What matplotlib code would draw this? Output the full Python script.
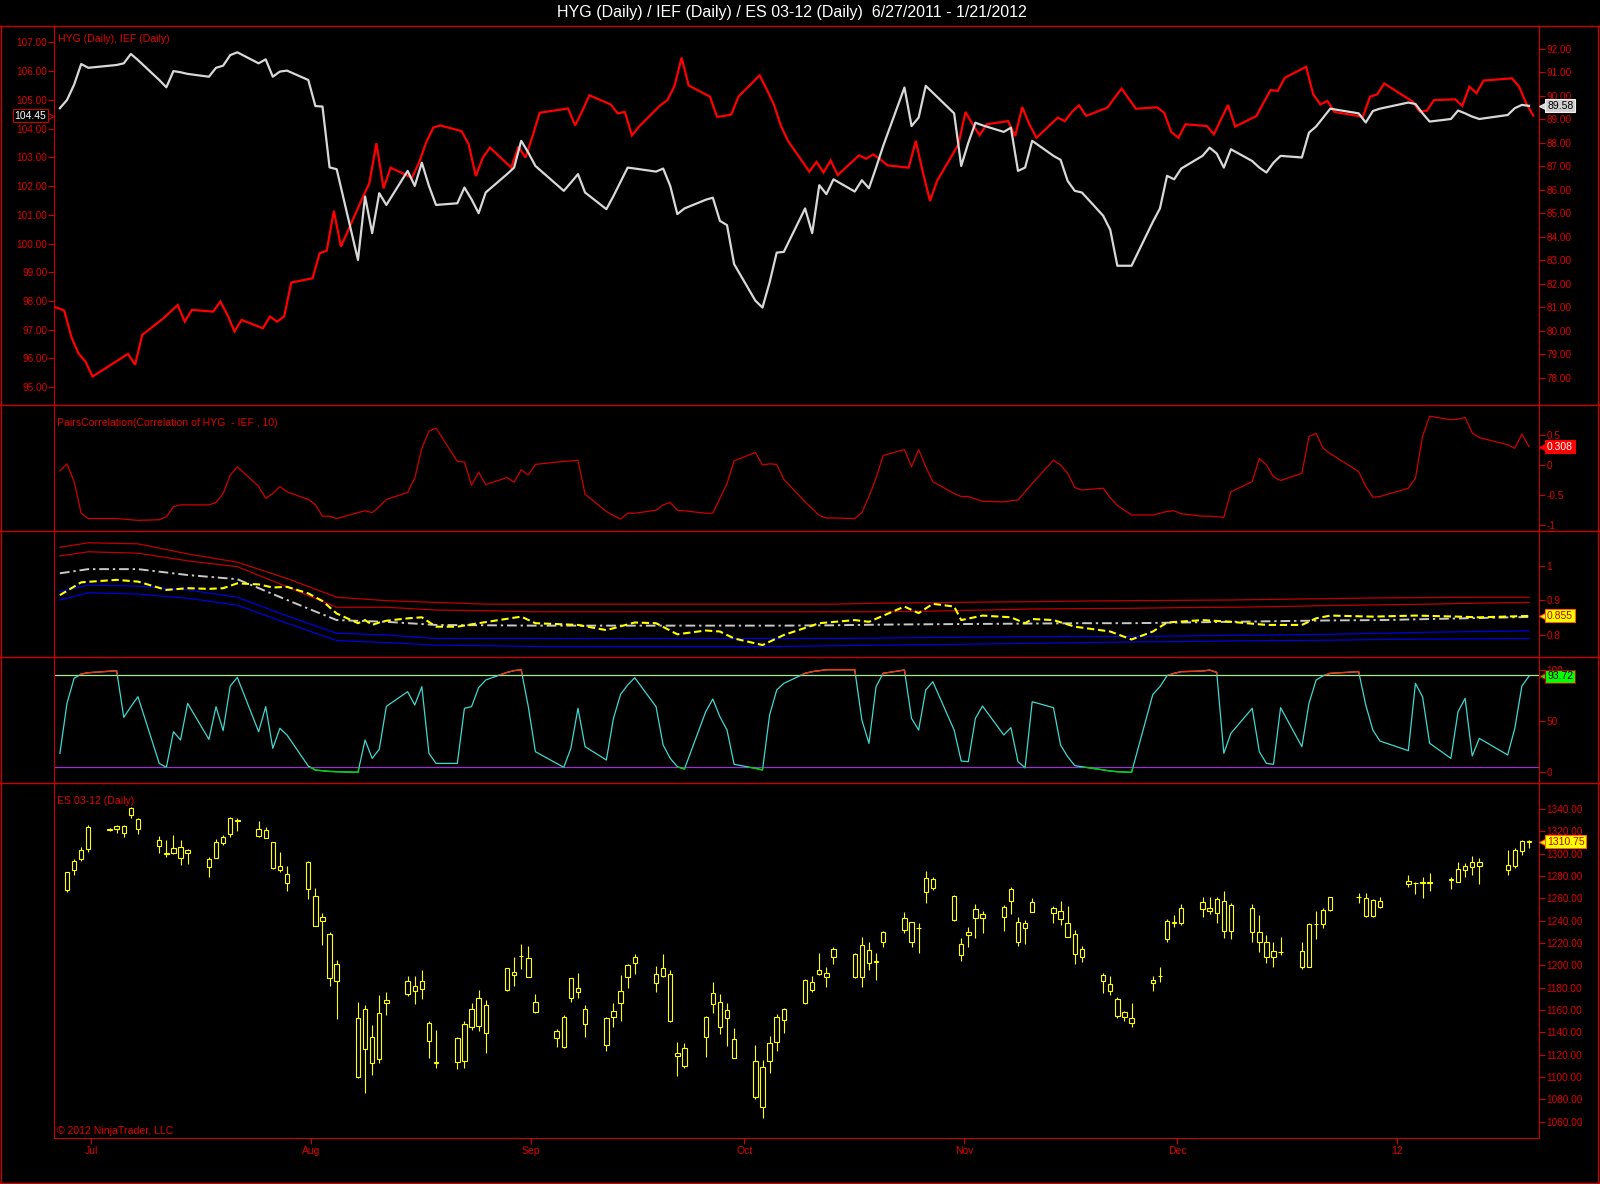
import numpy as np
import pandas as pd
import matplotlib
matplotlib.use("Agg")
import matplotlib.pyplot as plt
import matplotlib.dates as mdates
import matplotlib.transforms as mtransforms
from matplotlib.patches import Rectangle
from matplotlib.lines import Line2D

plt.rcParams['font.family'] = ['Liberation Sans', 'DejaVu Sans']

# ---------------- dates ----------------
etf_holidays = ['2011-07-04', '2011-09-05', '2011-11-24', '2011-12-26', '2012-01-02', '2012-01-16']
es_closed = ['2011-12-26', '2012-01-02', '2012-01-16']
etf_days = pd.bdate_range('2011-06-27', '2012-01-20').drop(pd.to_datetime(etf_holidays))
es_days = pd.bdate_range('2011-06-28', '2012-01-20').drop(pd.to_datetime(es_closed))
ief_days = pd.DatetimeIndex(['2011-06-24']).append(etf_days)

# ---------------- panel 1: IEF (left axis, red) / HYG (right axis, white) ----------------
ief = [97.95,
       97.67, 96.76, 96.18, 95.89, 95.37,
       96.00, 96.16, 95.78, 96.82,
       97.40, 97.63, 97.86, 97.28, 97.69,
       97.63, 97.98, 97.52, 96.94, 97.34,
       97.05, 97.46, 97.28, 97.46, 98.64,
       98.79, 99.66, 99.75, 101.14, 99.89,
       101.57, 102.10, 103.49, 101.92, 102.64,
       102.29, 102.81, 103.51, 104.03, 104.11,
       103.91, 103.45, 102.35, 102.99, 103.34,
       102.64, 103.37, 102.99, 103.74, 104.55,
       104.70, 104.11, 104.61, 105.16,
       104.84, 104.53, 104.58, 103.76, 104.07,
       104.81, 104.99, 105.48, 106.47, 105.50,
       105.11, 104.41, 104.44, 104.49, 105.11,
       105.85, 105.36, 104.84, 104.09, 103.57,
       102.50, 102.84, 102.47, 102.89, 102.38,
       103.07, 102.95, 103.10, 102.93, 102.72,
       102.64, 103.57, 102.47, 101.48, 102.18,
       103.45, 104.58, 104.15, 103.77, 104.15,
       104.26, 103.74, 104.75, 104.15, 103.68,
       104.38, 104.26, 104.58, 104.81, 104.44,
       104.73, 105.07, 105.39, 104.69,
       104.74, 104.55, 103.88, 103.68, 104.15,
       104.09, 103.80, 104.32, 104.82, 104.07,
       104.44, 104.90, 105.34, 105.31, 105.77,
       106.15, 105.19, 104.84, 104.96, 104.58,
       104.41, 105.11, 105.19, 105.57,
       104.94, 104.59, 104.62, 104.99,
       105.02, 104.79, 105.46, 105.23, 105.67,
       105.75, 105.46, 104.88, 104.45]

hyg = [89.48, 89.83, 90.48, 91.36, 91.20,
       91.32, 91.39, 91.79, 91.53,
       90.68, 90.37, 91.06, 91.01, 90.94,
       90.82, 91.20, 91.29, 91.74, 91.86,
       91.39, 91.56, 90.82, 91.04, 91.08,
       90.68, 89.57, 89.55, 86.96, 86.88,
       83.02, 85.72, 84.16, 85.86, 85.36,
       86.81, 86.17, 87.16, 86.17, 85.36,
       85.43, 86.10, 85.60, 85.01, 85.89,
       86.67, 86.95, 88.09, 87.59, 87.02,
       85.96, 86.31, 86.67, 85.89,
       85.18, 85.74, 86.34, 86.95, 86.91,
       86.78, 86.91, 86.17, 84.97, 85.21,
       85.58, 85.67, 84.68, 84.50, 82.84,
       81.28, 80.99, 82.06, 83.33, 83.36,
       85.21, 84.16, 86.20, 85.82, 86.45,
       85.93, 86.41, 86.07, 86.95, 87.87,
       90.36, 88.72, 89.08, 90.43, 90.14,
       89.26, 87.02, 88.01, 88.86, 88.75,
       88.47, 88.65, 86.81, 86.95, 88.09,
       87.45, 87.28, 86.38, 85.96, 85.89,
       84.90, 84.30, 82.77, 82.77,
       84.64, 85.21, 86.60, 86.45, 86.91,
       87.45, 87.80, 87.55, 86.95, 87.73,
       87.23, 86.95, 86.74, 87.16, 87.45,
       87.38, 88.44, 88.70, 89.08, 89.46,
       89.26, 88.87, 89.36, 89.46,
       89.72, 89.66, 89.26, 88.91,
       89.02, 89.38, 89.26, 89.12, 89.02,
       89.19, 89.48, 89.62, 89.58]

# ---------------- panel 2: PairsCorrelation ----------------
corr = [-0.10, 0.02, -0.28, -0.81, -0.90,
        -0.90, -0.91, -0.92, -0.93,
        -0.92, -0.87, -0.70, -0.67, -0.67,
        -0.67, -0.63, -0.48, -0.17, -0.03,
        -0.36, -0.56, -0.48, -0.36, -0.45,
        -0.58, -0.67, -0.86, -0.86, -0.90,
        -0.80, -0.77, -0.80, -0.70, -0.58,
        -0.46, -0.22, 0.28, 0.57, 0.62,
        0.06, 0.05, -0.34, -0.12, -0.33,
        -0.21, -0.29, -0.08, -0.17, 0.01,
        0.06, 0.07, 0.08, -0.49,
        -0.78, -0.85, -0.91, -0.81, -0.81,
        -0.76, -0.67, -0.63, -0.76, -0.77,
        -0.81, -0.81, -0.56, -0.31, 0.07,
        0.21, 0.00, 0.02, 0.01, -0.24,
        -0.62, -0.73, -0.85, -0.89, -0.89,
        -0.90, -0.80, -0.53, -0.22, 0.16,
        0.26, -0.03, 0.26, -0.03, -0.28,
        -0.48, -0.53, -0.53, -0.57, -0.61,
        -0.62, -0.60, -0.59, -0.45, -0.31,
        0.08, 0.00, -0.14, -0.38, -0.42,
        -0.39, -0.55, -0.68, -0.84,
        -0.84, -0.81, -0.78, -0.77, -0.82,
        -0.86, -0.86, -0.87, -0.88, -0.45,
        -0.28, 0.11, 0.00, -0.20, -0.26,
        -0.14, 0.48, 0.53, 0.28, 0.19,
        -0.11, -0.36, -0.54, -0.53,
        -0.39, -0.22, 0.48, 0.82,
        0.76, 0.77, 0.80, 0.54, 0.46,
        0.34, 0.28, 0.52, 0.308]

# ---------------- panel 3: ratio with bands ----------------
band_days = pd.to_datetime(['2011-06-27', '2011-07-01', '2011-07-08', '2011-07-15', '2011-07-22',
                            '2011-07-29', '2011-08-05', '2011-08-12', '2011-08-19', '2011-08-26',
                            '2011-09-02', '2011-09-09', '2011-09-16', '2011-09-23', '2011-09-30',
                            '2011-10-07', '2011-10-14', '2011-10-21', '2011-10-28', '2011-11-04',
                            '2011-11-11', '2011-11-18', '2011-11-25', '2011-12-02', '2011-12-09',
                            '2011-12-16', '2011-12-23', '2011-12-30', '2012-01-06', '2012-01-13',
                            '2012-01-20'])
upper2 = [1.053, 1.066, 1.063, 1.034, 1.010, 0.963, 0.909, 0.899, 0.894, 0.889, 0.889, 0.889,
          0.889, 0.889, 0.889, 0.889, 0.889, 0.892, 0.893, 0.895, 0.896, 0.898, 0.899, 0.900,
          0.901, 0.903, 0.905, 0.907, 0.908, 0.909, 0.909]
upper1 = [1.028, 1.040, 1.036, 1.014, 0.997, 0.939, 0.880, 0.880, 0.872, 0.870, 0.867, 0.867,
          0.867, 0.867, 0.867, 0.867, 0.867, 0.867, 0.869, 0.872, 0.875, 0.876, 0.877, 0.879,
          0.880, 0.882, 0.885, 0.887, 0.889, 0.892, 0.894]
mid = [0.978, 0.990, 0.990, 0.973, 0.961, 0.901, 0.843, 0.838, 0.829, 0.828, 0.827, 0.827,
       0.827, 0.827, 0.827, 0.827, 0.828, 0.830, 0.831, 0.832, 0.833, 0.834, 0.834, 0.836,
       0.838, 0.840, 0.842, 0.843, 0.846, 0.849, 0.852]
lower1 = [0.925, 0.944, 0.941, 0.930, 0.909, 0.855, 0.805, 0.800, 0.790, 0.790, 0.790, 0.790,
          0.790, 0.790, 0.790, 0.790, 0.790, 0.791, 0.793, 0.794, 0.795, 0.796, 0.796, 0.797,
          0.799, 0.800, 0.802, 0.805, 0.808, 0.810, 0.812]
lower2 = [0.901, 0.922, 0.918, 0.906, 0.886, 0.834, 0.784, 0.778, 0.771, 0.769, 0.767, 0.766,
          0.766, 0.766, 0.766, 0.767, 0.769, 0.771, 0.772, 0.774, 0.776, 0.778, 0.780, 0.781,
          0.783, 0.784, 0.785, 0.787, 0.788, 0.789, 0.790]

ratio_days = pd.to_datetime(['2011-06-27', '2011-06-30', '2011-07-05', '2011-07-08', '2011-07-12',
                             '2011-07-15', '2011-07-18', '2011-07-20', '2011-07-22', '2011-07-25',
                             '2011-07-27', '2011-07-29', '2011-08-01', '2011-08-03', '2011-08-05',
                             '2011-08-08', '2011-08-09', '2011-08-10', '2011-08-11', '2011-08-12',
                             '2011-08-15', '2011-08-17', '2011-08-19', '2011-08-22', '2011-08-25',
                             '2011-08-31', '2011-09-02', '2011-09-08', '2011-09-12', '2011-09-16',
                             '2011-09-19', '2011-09-22', '2011-09-26', '2011-09-28', '2011-09-30',
                             '2011-10-04', '2011-10-07', '2011-10-12', '2011-10-17', '2011-10-19',
                             '2011-10-24', '2011-10-26', '2011-10-28', '2011-10-31', '2011-11-01',
                             '2011-11-04', '2011-11-08', '2011-11-10', '2011-11-11', '2011-11-14',
                             '2011-11-17', '2011-11-22', '2011-11-25', '2011-11-28', '2011-11-30',
                             '2011-12-05', '2011-12-09', '2011-12-14', '2011-12-19', '2011-12-21',
                             '2011-12-23', '2011-12-29', '2012-01-04', '2012-01-10', '2012-01-13',
                             '2012-01-20'])
ratio = [0.915, 0.952, 0.959, 0.954, 0.930, 0.935, 0.933, 0.935, 0.949, 0.946, 0.937, 0.939,
         0.920, 0.898, 0.862, 0.834, 0.843, 0.829, 0.836, 0.841, 0.848, 0.851, 0.824, 0.824,
         0.834, 0.853, 0.834, 0.829, 0.814, 0.836, 0.834, 0.802, 0.813, 0.810, 0.790, 0.771,
         0.800, 0.834, 0.843, 0.838, 0.882, 0.863, 0.890, 0.882, 0.843, 0.856, 0.851, 0.834,
         0.846, 0.843, 0.824, 0.810, 0.787, 0.810, 0.836, 0.843, 0.838, 0.829, 0.829, 0.848,
         0.856, 0.853, 0.856, 0.853, 0.851, 0.855]

# ---------------- panel 4: oscillator ----------------
osc = [18.5, 67.2, 91.6, 95.8, 97.1,
       99.0, 53.6, 64.0, 73.7,
       8.7, 4.8, 39.6, 31.5, 67.2,
       32.1, 64.0, 40.6, 84.1, 92.5,
       39.6, 64.0, 23.4, 42.9, 36.4,
       6.1, 2.2, 1.6, 0.9, 0.6,
       0.0, 31.5, 13.6, 22.4, 64.3,
       78.6, 65.6, 83.5, 18.5, 8.7,
       8.7, 62.4, 64.0, 82.5, 90.0,
       97.4, 99.1, 100.0, 64.0, 20.1,
       4.9, 23.4, 62.4, 25.0,
       12.0, 52.6, 76.0, 85.1, 92.2,
       64.0, 26.6, 13.6, 5.5, 3.2,
       59.1, 71.5, 54.2, 41.2, 7.8,
       3.9, 2.3, 55.9, 80.2, 86.7,
       96.5, 98.1, 99.1, 100.0, 100.0,
       100.0, 51.0, 28.2, 83.5, 96.5,
       99.7, 52.6, 41.2, 80.2, 88.3,
       41.2, 11.0, 10.4, 52.6, 64.6,
       36.4, 43.5, 10.4, 4.5, 68.8,
       63.0, 26.6, 15.2, 6.5, 5.5,
       2.3, 1.3, 0.6, 0.0,
       76.0, 83.5, 94.2, 96.5, 98.1,
       98.7, 99.7, 97.4, 18.5, 38.0,
       62.4, 20.1, 8.7, 7.8, 63.0,
       25.0, 67.2, 89.9, 94.2, 96.5,
       98.1, 65.6, 41.2, 30.5,
       21.1, 86.7, 73.7, 28.3,
       13.6, 59.1, 72.1, 15.9, 33.1,
       16.9, 42.9, 84.1, 93.72]
osc_hi, osc_lo = 95, 5

# ---------------- panel 5: ES 03-12 daily candles ----------------
es_open = [1267.5, 1285.4, 1294.9, 1303.9, 1322.4, 1321.8, 1324.8, 1334.6, 1330.7,
           1312.2, 1300.2, 1300.9, 1305.7, 1300.3,
           1294.9, 1296.4, 1309.9, 1317.3, 1330.0,
           1321.8, 1321.2, 1310.1, 1289.3, 1281.5,
           1292.2, 1262.1, 1240.0, 1228.0, 1186.3,
           1152.5, 1124.8, 1136.1, 1115.8, 1166.0,
           1174.3, 1181.5, 1178.5, 1148.1, 1113.3,
           1113.1, 1114.6, 1145.1, 1170.4, 1139.7,
           1177.9, 1191.0, 1208.5, 1206.3, 1167.5,
           1141.2, 1126.6, 1170.4, 1179.4, 1160.6,
           1128.7, 1153.4, 1166.6, 1189.8, 1201.8,
           1191.9, 1190.4, 1191.9, 1121.2, 1109.9,
           1135.5, 1165.4, 1166.9, 1152.5, 1133.7,
           1114.3, 1072.8, 1114.6, 1131.6, 1160.6,
           1166.0, 1177.9, 1191.9, 1189.2, 1207.8,
           1210.1, 1189.8, 1213.7, 1203.8, 1220.6,
           1231.6, 1238.5, 1233.6, 1266.0, 1269.0,
           1262.1, 1209.2, 1227.2, 1242.1, 1245.9,
           1243.6, 1257.9, 1238.5, 1233.1, 1247.5,
           1251.0, 1241.2, 1237.6, 1227.8, 1207.8,
           1191.3, 1183.0, 1169.6, 1154.0, 1152.5,
           1184.5, 1190.9, 1223.3, 1238.7, 1238.2,
           1250.1, 1251.0, 1247.2, 1257.9, 1230.7,
           1251.0, 1229.5, 1220.6, 1207.2, 1212.1,
           1212.8, 1198.8, 1237.2, 1236.7, 1249.6,
           1261.4, 1260.0, 1244.2, 1257.6,
           1272.5, 1273.9, 1274.5, 1274.5,
           1276.9, 1274.9, 1285.4, 1288.4, 1292.8,
           1285.4, 1289.0, 1302.7, 1311.25]
es_high = [1284.0, 1295.0, 1305.7, 1325.7, 1323.0, 1325.7, 1325.7, 1342.0, 1332.2,
           1315.8, 1312.2, 1316.7, 1312.2, 1304.2,
           1296.7, 1312.8, 1316.4, 1332.5, 1331.6,
           1329.6, 1323.6, 1310.7, 1301.8, 1289.3,
           1293.7, 1269.0, 1247.2, 1229.6, 1204.8,
           1166.9, 1164.5, 1146.6, 1173.4, 1176.4,
           1190.4, 1190.4, 1195.8, 1150.4, 1142.1,
           1136.1, 1150.1, 1166.0, 1177.9, 1169.0,
           1197.9, 1207.2, 1219.1, 1217.3, 1174.3,
           1143.0, 1155.5, 1189.0, 1192.8, 1164.5,
           1153.4, 1166.0, 1191.3, 1201.2, 1210.1,
           1199.4, 1209.9, 1195.8, 1131.6, 1130.1,
           1154.6, 1184.8, 1174.3, 1166.6, 1143.6,
           1128.7, 1115.2, 1136.7, 1156.1, 1162.1,
           1187.8, 1190.4, 1211.3, 1198.8, 1216.7,
           1210.7, 1225.1, 1221.2, 1211.3, 1231.0,
           1248.0, 1239.1, 1237.6, 1284.5, 1279.4,
           1263.0, 1224.2, 1234.0, 1255.0, 1248.7,
           1254.0, 1269.9, 1243.6, 1240.6, 1260.0,
           1253.1, 1257.6, 1253.1, 1231.6, 1217.3,
           1193.4, 1190.4, 1172.0, 1159.4, 1166.0,
           1190.7, 1198.2, 1241.5, 1245.1, 1254.6,
           1260.9, 1260.9, 1261.5, 1266.6, 1255.5,
           1254.6, 1245.1, 1227.2, 1220.6, 1225.1,
           1220.6, 1237.6, 1249.0, 1251.0, 1261.5,
           1264.5, 1264.5, 1259.1, 1260.9,
           1280.9, 1274.9, 1279.4, 1282.4,
           1278.8, 1292.2, 1291.3, 1297.9, 1295.8,
           1303.3, 1304.8, 1312.3, 1312.3]
es_low = [1266.0, 1281.0, 1293.4, 1301.8, 1320.5, 1318.2, 1315.2, 1332.2, 1317.6,
          1300.3, 1297.3, 1299.4, 1289.9, 1290.7,
          1279.4, 1295.8, 1307.5, 1315.2, 1320.6,
          1315.2, 1313.7, 1286.3, 1283.9, 1266.9,
          1259.1, 1235.5, 1218.2, 1181.5, 1151.6,
          1098.8, 1086.0, 1101.8, 1112.2, 1155.5,
          1172.5, 1165.4, 1169.9, 1116.7, 1107.8,
          1107.2, 1108.4, 1142.1, 1141.5, 1121.2,
          1177.3, 1181.8, 1196.4, 1189.2, 1157.0,
          1127.2, 1126.0, 1166.9, 1171.0, 1136.1,
          1123.6, 1145.1, 1150.1, 1179.4, 1192.2,
          1176.4, 1189.8, 1149.6, 1101.2, 1108.4,
          1118.2, 1157.6, 1138.2, 1127.8, 1116.7,
          1080.0, 1063.0, 1103.9, 1123.6, 1139.7,
          1165.4, 1176.4, 1191.3, 1180.3, 1201.2,
          1188.4, 1180.9, 1195.8, 1186.9, 1216.7,
          1229.3, 1216.1, 1211.3, 1255.5, 1267.5,
          1239.7, 1204.2, 1216.7, 1224.2, 1229.3,
          1231.0, 1246.0, 1217.3, 1219.1, 1247.5,
          1237.6, 1236.1, 1225.1, 1201.2, 1203.3,
          1175.5, 1173.4, 1153.1, 1150.4, 1144.5,
          1177.3, 1185.4, 1221.2, 1234.0, 1236.1,
          1243.6, 1246.0, 1238.2, 1224.2, 1223.3,
          1220.6, 1212.2, 1202.4, 1198.2, 1209.3,
          1196.4, 1198.8, 1223.3, 1233.1, 1248.7,
          1256.0, 1243.6, 1243.6, 1251.0,
          1270.4, 1263.6, 1260.0, 1266.9,
          1268.1, 1274.9, 1279.4, 1280.9, 1272.8,
          1280.9, 1286.9, 1298.8, 1304.8]
es_close = [1283.3, 1293.7, 1303.3, 1323.6, 1320.9, 1324.8, 1318.8, 1340.6, 1322.4,
            1306.9, 1299.7, 1304.8, 1295.8, 1303.3,
            1288.4, 1310.7, 1314.6, 1331.6, 1329.5,
            1315.8, 1314.3, 1287.5, 1285.4, 1273.4,
            1268.1, 1235.5, 1243.6, 1188.3, 1200.9,
            1100.3, 1160.6, 1112.2, 1157.0, 1169.0,
            1186.0, 1177.3, 1186.3, 1132.5, 1112.8,
            1134.6, 1147.5, 1160.6, 1146.0, 1164.5,
            1197.3, 1193.7, 1208.0, 1189.8, 1158.5,
            1134.6, 1154.0, 1188.4, 1175.8, 1147.5,
            1152.5, 1159.4, 1177.0, 1200.3, 1207.2,
            1184.5, 1197.3, 1150.1, 1119.1, 1125.7,
            1153.4, 1174.9, 1144.5, 1160.0, 1117.3,
            1081.8, 1108.7, 1130.7, 1154.0, 1151.0,
            1186.9, 1184.8, 1195.8, 1192.8, 1214.6,
            1189.2, 1218.2, 1201.8, 1203.3, 1229.6,
            1242.1, 1220.6, 1233.1, 1277.9, 1277.3,
            1240.6, 1218.8, 1229.6, 1250.4, 1242.1,
            1251.9, 1268.1, 1220.6, 1237.6, 1256.4,
            1246.6, 1248.7, 1225.7, 1209.9, 1214.6,
            1186.0, 1177.3, 1154.6, 1157.9, 1148.7,
            1186.9, 1190.4, 1239.7, 1238.2, 1251.0,
            1257.0, 1248.7, 1259.4, 1230.7, 1254.0,
            1229.5, 1220.6, 1207.2, 1212.8, 1211.6,
            1198.8, 1237.0, 1236.7, 1249.6, 1260.9,
            1260.9, 1244.2, 1258.5, 1252.5,
            1275.8, 1273.4, 1274.0, 1274.0,
            1276.4, 1286.0, 1289.0, 1292.8, 1289.3,
            1289.9, 1303.3, 1311.3, 1310.75]

month_ticks = ['2011-07-01', '2011-08-01', '2011-09-01', '2011-10-01', '2011-11-01', '2011-12-01', '2012-01-01']
month_labels = ['Jul', 'Aug', 'Sep', 'Oct', 'Nov', 'Dec', '12']

# ---------------- styling ----------------
RED_TXT = '#e00000'
RED_LN = '#c80000'
YEL = '#ffff00'
W, H = 1600, 1184
L, R = 54, 1539

fig = plt.figure(figsize=(16, 11.84), dpi=100, facecolor='black')


def panel(top, bot, share=None):
    ax = fig.add_axes([L / W, 1 - bot / H, (R - L) / W, (bot - top) / H], facecolor='black', sharex=share)
    for s in ['top', 'bottom']:
        ax.spines[s].set_visible(False)
    for s in ['left', 'right']:
        ax.spines[s].set_color(RED_LN)
    ax.tick_params(axis='y', colors=RED_LN, labelcolor=RED_TXT, labelsize=7.2, length=4, width=0.8, pad=1.5,
                   left=False, labelleft=False, right=True, labelright=True)
    ax.tick_params(axis='x', bottom=False, labelbottom=False)
    return ax


ax1 = panel(26, 405)
ax2 = panel(405, 531, ax1)
ax3 = panel(531, 657, ax1)
ax4 = panel(657, 783, ax1)
ax5 = panel(783, 1138, ax1)

d2n = lambda d: mdates.date2num(pd.DatetimeIndex(d).to_pydatetime())
xe = d2n(etf_days)
xs = d2n(es_days)
x_jul1 = d2n(['2011-07-01'])[0]
x_end = d2n(['2012-01-20'])[0]
ax1.set_xlim(x_jul1 - 4.83, x_end + 1.41)

# panel 1
ax1.tick_params(axis='y', left=True, labelleft=True, right=False, labelright=False, pad=0.8)
ax1.plot(d2n(ief_days) + 0.6, ief, color='#ff0000', lw=1.6, solid_joinstyle='miter')
ax1.set_ylim(94.38, 107.57)
ax1.set_yticks(np.arange(95, 108, 1))
ax1.set_yticklabels(['%.2f' % v for v in np.arange(95, 108, 1)])
ax1r = ax1.twinx()
for s in ['top', 'bottom', 'left']:
    ax1r.spines[s].set_visible(False)
ax1r.spines['right'].set_color(RED_LN)
ax1r.tick_params(axis='y', colors=RED_LN, labelcolor=RED_TXT, labelsize=7.2, length=4, width=0.8, pad=1.5)
ax1r.plot(xe, hyg, color='#d8d8d8', lw=1.6)
ax1r.set_ylim(76.84, 92.98)
ax1r.set_yticks(np.arange(78, 93, 1))
ax1r.set_yticklabels(['%.2f' % v for v in np.arange(78, 93, 1)])

# panel 2
ax2.plot(xe, corr, color='#d00000', lw=0.9)
ax2.set_ylim(-1.109, 1.008)
ax2.set_yticks([-1, -0.5, 0, 0.5])
ax2.set_yticklabels(['-1', '-0.5', '0', '0.5'])

# panel 3
xb = d2n(band_days)
ax3.plot(xb, upper2, color='#c00000', lw=0.9)
ax3.plot(xb, upper1, color='#c00000', lw=0.9)
ax3.plot(xb, lower1, color='#0000e0', lw=0.9)
ax3.plot(xb, lower2, color='#0000e0', lw=0.9)
ax3.plot(xb, mid, color='#c8c8c8', lw=1.4, dashes=(5, 2, 1.2, 2))
ax3.plot(d2n(ratio_days), ratio, color=YEL, lw=1.5, dashes=(3.5, 1.8))
ax3.set_ylim(0.7365, 1.100)
ax3.set_yticks([0.8, 0.9, 1.0])
ax3.set_yticklabels(['0.8', '0.9', '1'])

# panel 4
ax4.axhline(osc_hi, color='#a8e890', lw=0.9)
ax4.axhline(osc_lo, color='#9932cc', lw=0.9)
ax4.plot(xe, osc, color='#40d8d0', lw=0.9)
x0, x1 = ax1.get_xlim()
for col, lo, hi in [('#ff3000', osc_hi, 300), ('#00d000', -300, osc_lo)]:
    ln, = ax4.plot(xe, osc, color=col, lw=1.0)
    ln.set_clip_path(Rectangle((x0, lo), x1 - x0, hi - lo, transform=ax4.transData))
ax4.set_ylim(-10.4, 112.4)
ax4.set_yticks([0, 50, 100])

# panel 5 candles
o = np.array(es_open)
c = np.array(es_close)
ax5.vlines(xs, es_low, es_high, color=YEL, lw=0.8, zorder=2)
ax5.bar(xs, np.maximum(np.abs(c - o), 0.3), bottom=np.minimum(o, c), width=0.62,
        facecolor='black', edgecolor=YEL, linewidth=0.8, zorder=3)
ax5.set_ylim(1045.4, 1363.3)
ax5.set_yticks(np.arange(1060, 1341, 20))
ax5.set_yticklabels(['%.2f' % v for v in np.arange(1060, 1341, 20)])
ax5.spines['bottom'].set_visible(True)
ax5.spines['bottom'].set_color(RED_LN)
ax5.set_xticks(d2n(month_ticks) + 0.42)
ax5.set_xticklabels(month_labels)
ax5.tick_params(axis='x', bottom=True, labelbottom=True, colors=RED_LN, labelcolor=RED_TXT,
                labelsize=7.5, length=4, width=0.8, pad=1.5)

# panel captions
lab = dict(color=RED_TXT, fontsize=7.6, ha='left', va='center', xycoords='axes fraction', textcoords='offset pixels')
ax1.annotate('HYG (Daily), IEF (Daily)', xy=(0, 1), xytext=(4, -13), **lab)
ax2.annotate('PairsCorrelation(Correlation of HYG  - IEF , 10)', xy=(0, 1), xytext=(3, -18), **lab)
ax5.annotate('ES 03-12 (Daily)', xy=(0, 1), xytext=(3, -18), **lab)
ax5.annotate('\u00a9 2012 NinjaTrader, LLC', xy=(0, 0), xytext=(3, 7), **lab)


# price markers
def tag(ax, y, txt, fc, tc, ec, side='right'):
    tr = mtransforms.blended_transform_factory(ax.transAxes, ax.transData)
    px = 1.0 / (R - L)
    if side == 'right':
        ax.plot([1 + 5 * px], [y], marker='<', ms=7, mfc=fc, mec=ec, mew=0.8, transform=tr, clip_on=False, zorder=20)
        ax.text(1 + 8 * px, y, txt, transform=tr, ha='left', va='center', color=tc, fontsize=7.5, clip_on=False,
                bbox=dict(boxstyle='square,pad=0.15', fc=fc, ec=ec, lw=0.8), zorder=21)
    else:
        ax.plot([-5 * px], [y], marker='>', ms=7, mfc=fc, mec=ec, mew=0.8, transform=tr, clip_on=False, zorder=20)
        ax.text(-8 * px, y, txt, transform=tr, ha='right', va='center', color=tc, fontsize=7.5, clip_on=False,
                bbox=dict(boxstyle='square,pad=0.15', fc=fc, ec=ec, lw=0.8), zorder=21)


tag(ax1, ief[-1], '%.2f' % ief[-1], 'black', 'white', RED_LN, side='left')
tag(ax1r, hyg[-1], '%.2f' % hyg[-1], '#d0d0d0', 'black', '#f0f0f0')
tag(ax2, corr[-1], '%.3f' % corr[-1], '#ff0000', 'white', '#ff0000')
tag(ax3, ratio[-1], '%.3f' % ratio[-1], YEL, '#c00000', '#ff6000')
tag(ax4, osc[-1], '%.2f' % osc[-1], '#00ff00', 'black', '#c00000')
tag(ax5, es_close[-1], '%.2f' % es_close[-1], YEL, '#c00000', '#ff6000')

# frame lines
for yy in [26, 405, 531, 657, 783, 1183]:
    fig.add_artist(Line2D([0, 1], [1 - yy / H, 1 - yy / H], color=RED_LN, lw=1))
for xx in [1, 1598]:
    fig.add_artist(Line2D([xx / W, xx / W], [1 - 26 / H, 1 - 1183 / H], color=RED_LN, lw=1))

fig.text(792 / W, 1 - 13 / H, 'HYG (Daily) / IEF (Daily) / ES 03-12 (Daily)  6/27/2011 - 1/21/2012',
         color='white', ha='center', va='center', fontsize=11.5,
         family=['Liberation Sans Narrow', 'Liberation Sans', 'DejaVu Sans'])

fig.savefig('out.png', dpi=100, facecolor='black')
